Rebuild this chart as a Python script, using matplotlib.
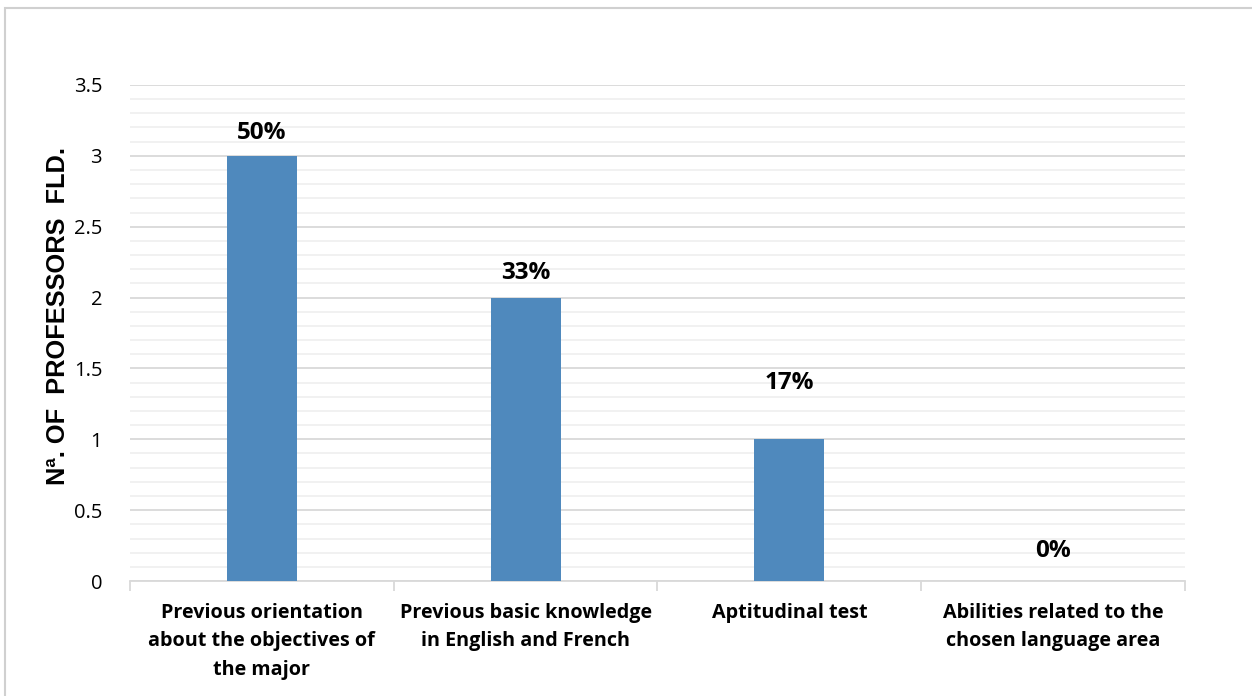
import matplotlib.pyplot as plt
from matplotlib.patches import Rectangle
from matplotlib.ticker import MultipleLocator

# data
categories = ['Previous orientation\nabout the objectives of\nthe major',
              'Previous basic knowledge\nin English and French',
              'Aptitudinal test',
              'Abilities related to the\nchosen language area']
professors = [3, 2, 1, 0]
percent_labels = ['50%', '33%', '17%', '0%']
# how far each percentage label sits above its bar (data units)
label_lift = [0.16, 0.17, 0.40, 0.21]

fig = plt.figure(figsize=(12.52, 6.96), dpi=100)
ax = fig.add_axes([0.1038, 0.1652, 0.8427, 0.7127])

# light frame round the whole chart
fig.patches.append(Rectangle((5 / 1252, -0.01), 1.02, 1 - 8 / 696 + 0.01, transform=fig.transFigure,
                             fill=False, edgecolor='#d0d0d0', linewidth=1.5))

x = range(len(categories))
ax.bar(x, professors, width=0.265, color='#4f89bd', zorder=3)

for i, (v, lab) in enumerate(zip(professors, percent_labels)):
    ax.text(i, v + label_lift[i], lab, ha='center', va='center',
            fontsize=17.5, fontweight='bold', family='Open Sans', zorder=4)

ax.set_xlim(-0.5, len(categories) - 0.5)
ax.set_ylim(0, 3.5)
ax.yaxis.set_major_locator(MultipleLocator(0.5))
ax.yaxis.set_minor_locator(MultipleLocator(0.1))
ax.set_yticks([0, 0.5, 1, 1.5, 2, 2.5, 3, 3.5])
ax.set_yticklabels(['0', '0.5', '1', '1.5', '2', '2.5', '3', '3.5'], fontsize=14.5, family='Open Sans')
ax.tick_params(axis='y', which='both', length=0, pad=20)

ax.grid(axis='y', which='major', color='#d9d9d9', linewidth=1.3, zorder=0)
ax.grid(axis='y', which='minor', color='#f0f0f0', linewidth=1.3, zorder=0)

# category ticks sit between the categories, labels in the middle
ax.set_xticks([i - 0.5 for i in range(len(categories) + 1)])
ax.set_xticklabels([])
ax.tick_params(axis='x', which='major', length=7, color='#d9d9d9', width=1.3)
ax.set_xticks(list(x), minor=True)
ax.set_xticklabels(categories, minor=True, fontsize=14.2, fontweight='bold',
                   family='Open Sans', linespacing=1.55)
ax.tick_params(axis='x', which='minor', length=0, pad=16)

for s in ['top', 'right', 'left']:
    ax.spines[s].set_visible(False)
ax.spines['bottom'].set_color('#d9d9d9')
ax.spines['bottom'].set_linewidth(1.3)

ax.set_ylabel('Nª. OF  PROFESSORS  FLD.', fontsize=18.3, fontweight='bold',
              family='Liberation Sans')
ax.yaxis.set_label_coords(-0.057, 0.534)

fig.savefig('out.png', dpi=100)
